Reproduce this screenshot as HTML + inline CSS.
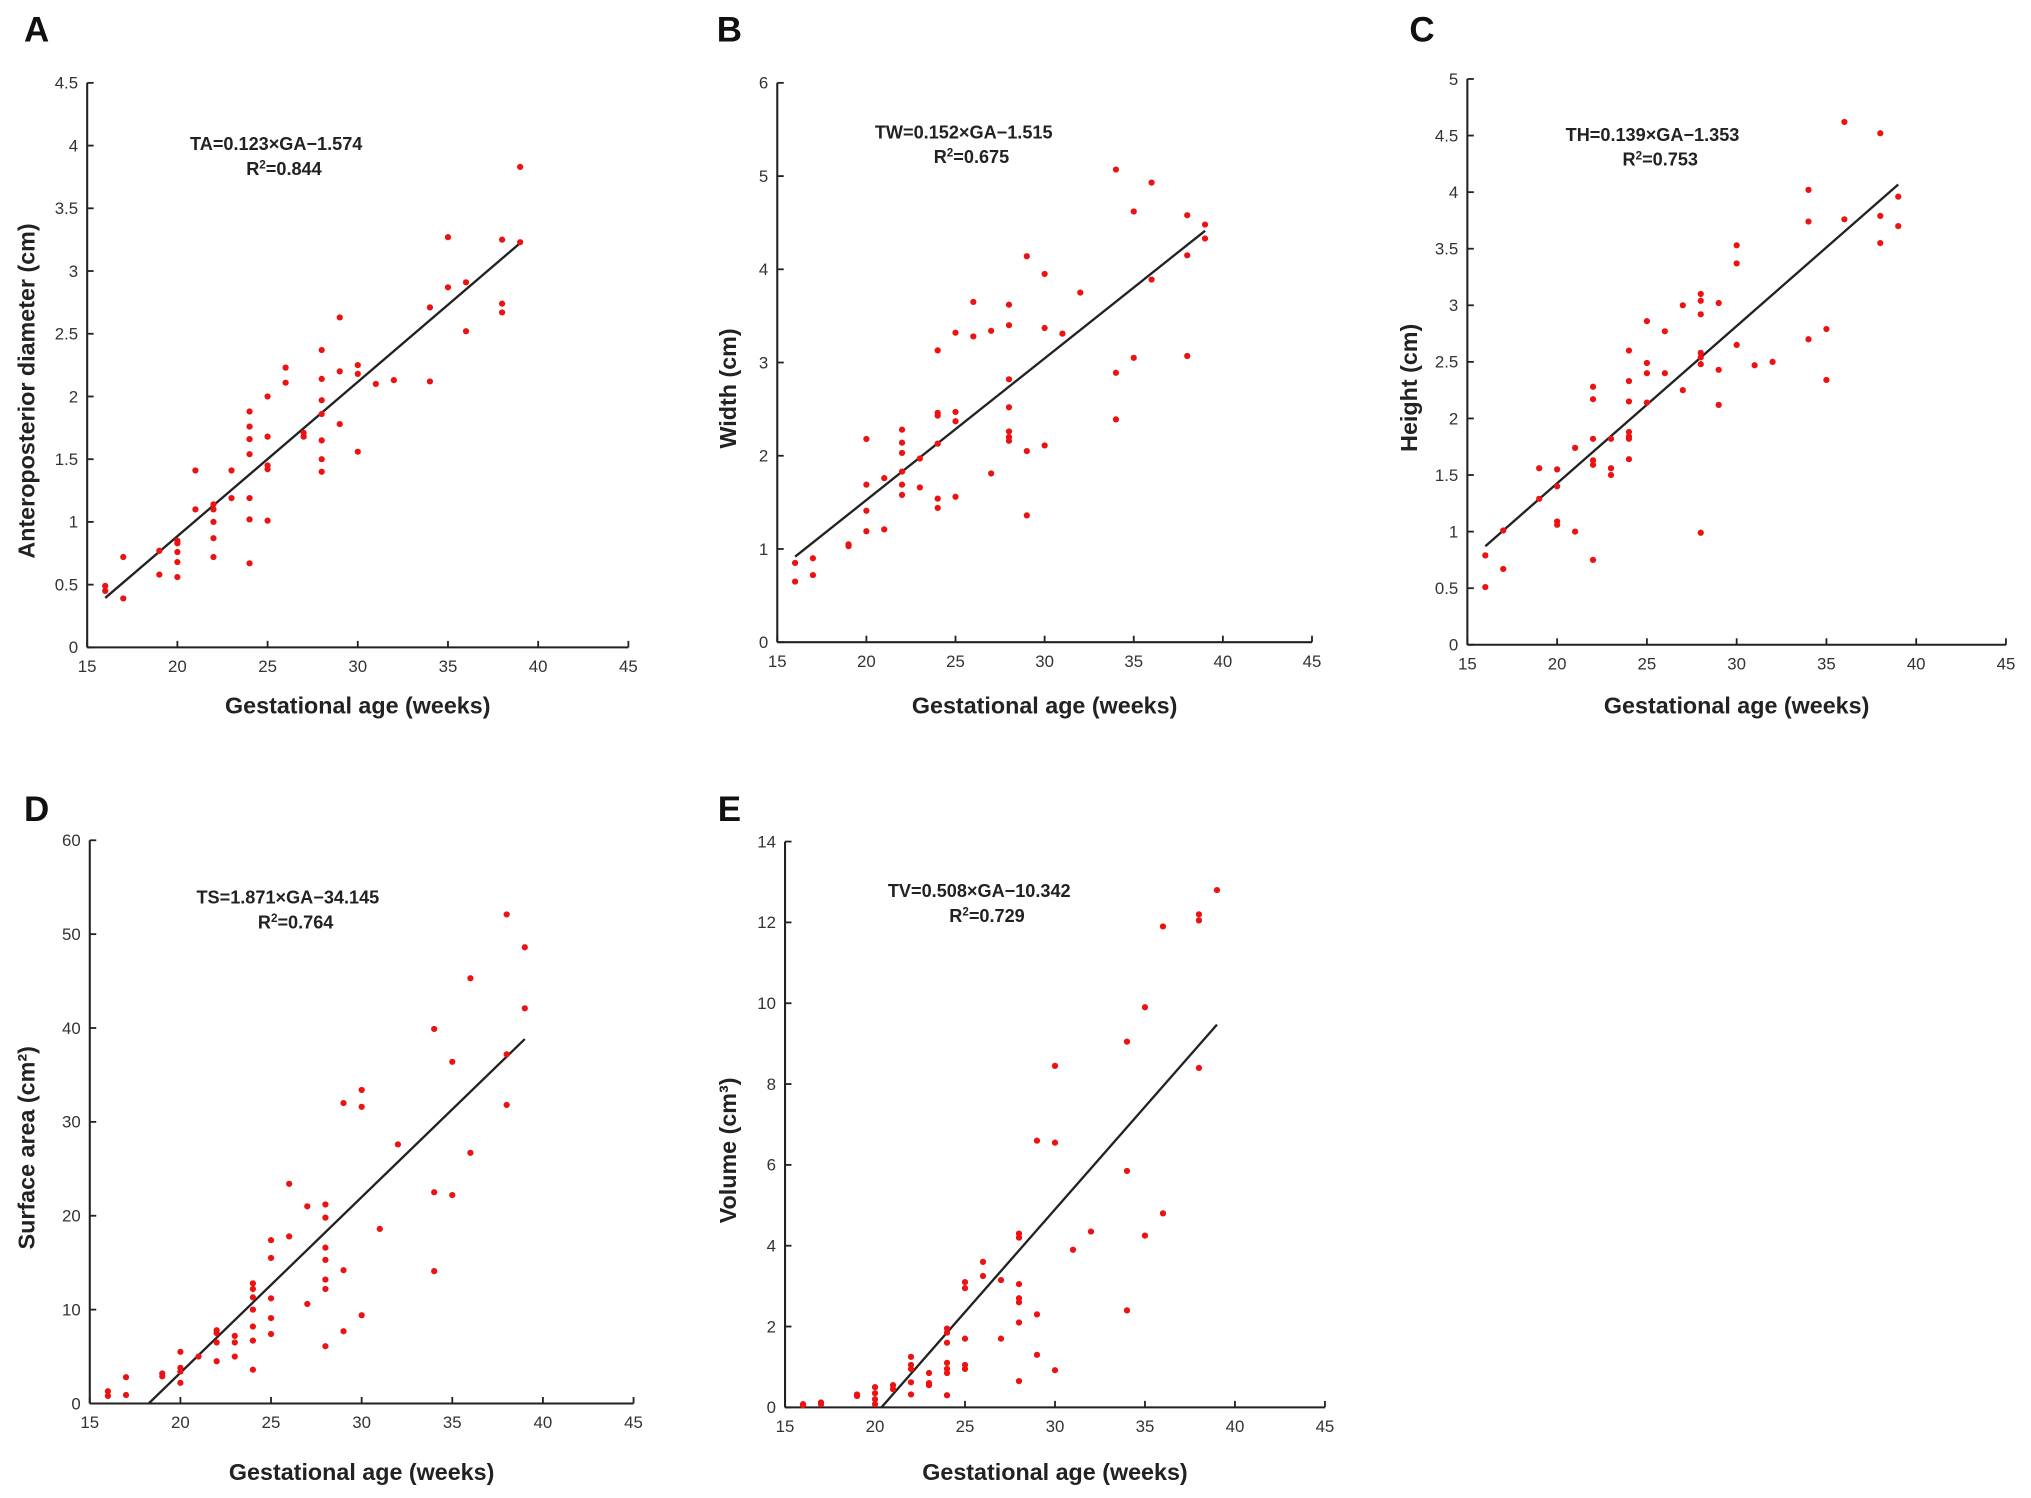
<!DOCTYPE html>
<html><head><meta charset="utf-8"><style>
html,body{margin:0;padding:0;background:#fff;}
svg{display:block;font-family:"Liberation Sans",Arial,sans-serif;}
</style></head><body>
<svg id="fig" width="2031" height="1498" viewBox="0 0 1568 1157" xmlns="http://www.w3.org/2000/svg"></svg>
<script>
const ticksA=[0,0.5,1,1.5,2,2.5,3,3.5,4,4.5];
const ticksB=[0,1,2,3,4,5,6];
const ticksC=[0,0.5,1,1.5,2,2.5,3,3.5,4,4.5,5];
const ticksD=[0,10,20,30,40,50,60];
const ticksE=[0,2,4,6,8,10,12,14];
const xTicks=[15,20,25,30,35,40,45];
const gaA=[16,16,17,17,19,19,20,20,20,20,20,21,21,22,22,22,22,22,23,23,24,24,24,24,24,24,24,25,25,25,25,25,26,26,27,27,28,28,28,28,28,28,28,29,29,29,30,30,30,31,32,34,34,35,35,36,36,38,38,38,39,39];
const valA=[0.49,0.45,0.72,0.39,0.77,0.58,0.85,0.83,0.76,0.68,0.56,1.41,1.1,1.14,1.1,1.0,0.87,0.72,1.41,1.19,1.88,1.76,1.66,1.54,1.19,1.02,0.67,2.0,1.68,1.45,1.42,1.01,2.23,2.11,1.71,1.68,2.37,2.14,1.97,1.86,1.65,1.5,1.4,2.63,2.2,1.78,2.25,2.18,1.56,2.1,2.13,2.71,2.12,3.27,2.87,2.91,2.52,3.25,2.74,2.67,3.83,3.23];
const gaB=[16,16,17,17,19,19,20,20,20,20,21,21,22,22,22,22,22,22,23,23,24,24,24,24,24,24,25,25,25,25,26,26,27,27,28,28,28,28,28,28,28,29,29,29,30,30,30,31,32,34,34,34,35,35,36,36,38,38,38,39,39];
const valB=[0.85,0.65,0.9,0.72,1.05,1.03,2.18,1.69,1.41,1.19,1.76,1.21,2.28,2.14,2.03,1.83,1.69,1.58,1.97,1.66,3.13,2.46,2.43,2.13,1.54,1.44,3.32,2.47,2.37,1.56,3.65,3.28,3.34,1.81,3.62,3.4,2.82,2.52,2.26,2.2,2.16,4.14,2.05,1.36,3.95,3.37,2.11,3.31,3.75,5.07,2.89,2.39,4.62,3.05,4.93,3.89,4.58,4.15,3.07,4.48,4.33];
const gaC=[16,16,17,17,19,19,20,20,20,20,21,21,22,22,22,22,22,22,23,23,23,24,24,24,24,24,24,24,25,25,25,25,26,26,27,27,28,28,28,28,28,28,28,29,29,29,30,30,30,31,32,34,34,34,35,35,36,36,38,38,38,39,39];
const valC=[0.79,0.51,1.01,0.67,1.56,1.29,1.55,1.4,1.09,1.06,1.74,1.0,2.28,2.17,1.82,1.63,1.59,0.75,1.82,1.56,1.5,2.6,2.33,2.15,1.88,1.84,1.82,1.64,2.86,2.49,2.4,2.14,2.77,2.4,3.0,2.25,3.1,3.04,2.92,2.58,2.54,2.48,0.99,3.02,2.43,2.12,3.53,3.37,2.65,2.47,2.5,4.02,3.74,2.7,2.79,2.34,4.62,3.76,4.52,3.79,3.55,3.96,3.7];
const gaD=[16,16,17,17,19,19,20,20,20,20,21,22,22,22,22,23,23,23,24,24,24,24,24,24,24,25,25,25,25,25,26,26,27,27,28,28,28,28,28,28,28,29,29,29,30,30,30,31,32,34,34,34,35,35,36,36,38,38,38,39,39];
const valD=[1.3,0.8,2.8,0.9,3.2,2.9,5.5,3.8,3.4,2.2,5.0,7.8,7.5,6.5,4.5,7.2,6.5,5.0,12.8,12.2,11.3,10.0,8.2,6.7,3.6,17.4,15.5,11.2,9.1,7.4,23.4,17.8,21.0,10.6,21.2,19.8,16.6,15.3,13.2,12.2,6.1,32.0,14.2,7.7,33.4,31.6,9.4,18.6,27.6,39.9,22.5,14.1,36.4,22.2,45.3,26.7,52.1,37.2,31.8,48.6,42.1];
const gaE=[16,16,17,17,19,19,20,20,20,20,21,21,22,22,22,22,22,23,23,23,24,24,24,24,24,24,24,25,25,25,25,25,26,26,27,27,28,28,28,28,28,28,28,29,29,29,30,30,30,31,32,34,34,34,35,35,36,36,38,38,38,39];
const valE=[0.08,0.05,0.12,0.08,0.32,0.28,0.5,0.35,0.2,0.08,0.55,0.45,1.25,1.05,0.95,0.62,0.32,0.85,0.6,0.55,1.95,1.85,1.6,1.1,0.95,0.85,0.3,3.1,2.95,1.7,1.05,0.95,3.6,3.25,3.15,1.7,4.3,4.2,3.05,2.7,2.6,2.1,0.65,6.6,2.3,1.3,8.45,6.55,0.92,3.9,4.35,9.05,5.85,2.4,9.9,4.25,11.9,4.8,12.2,12.05,8.4,12.8];
const slopes=[0.123,0.152,0.139,1.871,0.508];
const intercepts=[-1.574,-1.515,-1.353,-34.145,-10.342];

const NS="http://www.w3.org/2000/svg";
const svg=document.getElementById('fig');
function mk(tag,attrs,parent,text){const e=document.createElementNS(NS,tag);for(const k in attrs)e.setAttribute(k,attrs[k]);if(text!==undefined)e.textContent=text;(parent||svg).appendChild(e);return e;}

const panels=[
 {id:'a',L:'A',lx:28,ly:32,x0:67,x1:485,y0:500,y1:64,ticks:ticksA,ga:gaA,val:valA,ylab:'Anteroposterior diameter (cm)',ylx:20,xly:551,eq:'TA=0.123×GA−1.574',r2:'0.844',ex:213,ey:116},
 {id:'b',L:'B',lx:563,ly:32,x0:600,x1:1013,y0:496,y1:64,ticks:ticksB,ga:gaB,val:valB,ylab:'Width (cm)',ylx:562,xly:551,eq:'TW=0.152×GA−1.515',r2:'0.675',ex:744,ey:107},
 {id:'c',L:'C',lx:1098,ly:32,x0:1133,x1:1549,y0:498,y1:61,ticks:ticksC,ga:gaC,val:valC,ylab:'Height (cm)',ylx:1088,xly:551,eq:'TH=0.139×GA−1.353',r2:'0.753',ex:1276,ey:109},
 {id:'d',L:'D',lx:28,ly:634,x0:69,x1:489,y0:1084,y1:649,ticks:ticksD,ga:gaD,val:valD,ylab:'Surface area (cm²)',ylx:20,xly:1143,eq:'TS=1.871×GA−34.145',r2:'0.764',ex:222,ey:698},
 {id:'e',L:'E',lx:563,ly:634,x0:606,x1:1023,y0:1087,y1:650,ticks:ticksE,ga:gaE,val:valE,ylab:'Volume (cm³)',ylx:562,xly:1143,eq:'TV=0.508×GA−10.342',r2:'0.729',ex:756,ey:693}
];

panels.forEach((p,i)=>{
 const g=mk('g',{});
 
 
 const ymax=p.ticks[p.ticks.length-1];
 const X=v=>p.x0+(v-15)/30*(p.x1-p.x0);
 const Y=v=>p.y0-(v/ymax)*(p.y0-p.y1);
 const lt=mk('text',{x:p.lx,y:p.ly,'font-size':27,'font-weight':'bold','text-anchor':'middle',fill:'#111'},g,p.L);
 
 
 const ya=mk('line',{x1:p.x0,y1:p.y0,x2:p.x0,y2:p.y1,stroke:'#222','stroke-width':1.6},g);
 
 
 const xa=mk('line',{x1:p.x0,y1:p.y0,x2:p.x1,y2:p.y0,stroke:'#222','stroke-width':1.6},g);
 
 
 p.ticks.forEach(t=>{
  mk('line',{x1:p.x0,y1:Y(t),x2:p.x0+5,y2:Y(t),stroke:'#222','stroke-width':1.4},g);
  const tl=mk('text',{x:p.x0-7,y:Y(t)+4.5,'font-size':13,'text-anchor':'end',fill:'#333'},g,String(t));
  
  
 });
 xTicks.forEach(t=>{
  mk('line',{x1:X(t),y1:p.y0,x2:X(t),y2:p.y0-5,stroke:'#222','stroke-width':1.4},g);
  const tl=mk('text',{x:X(t),y:p.y0+19,'font-size':13,'text-anchor':'middle',fill:'#333'},g,String(t));
  
  
 });
 const xl=mk('text',{x:(p.x0+p.x1)/2,y:p.xly,'font-size':18,'font-weight':'bold','text-anchor':'middle',fill:'#222'},g,'Gestational age (weeks)');
 
 
 const cy=(p.y0+p.y1)/2+20;
 const yl=mk('text',{x:p.ylx,y:cy,'font-size':18,'font-weight':'bold','text-anchor':'middle',fill:'#222',transform:'rotate(-90 '+(p.ylx)+' '+cy+')','dominant-baseline':'central'},g,p.ylab);
 
 
 const e1=mk('text',{x:p.ex,y:p.ey,'font-size':14,'font-weight':'bold','text-anchor':'middle',fill:'#222'},g,p.eq);
 
 
 const e2=mk('text',{x:p.ex+6,y:p.ey+19,'font-size':14,'font-weight':'bold','text-anchor':'middle',fill:'#222'},g);
 
 
 mk('tspan',{},e2,'R');
 mk('tspan',{'font-size':9,dy:-5},e2,'2');
 mk('tspan',{dy:5},e2,'='+p.r2);
 const m=slopes[i],b=intercepts[i];
 let xs=16; if(m*xs+b<0) xs=-b/m;
 const xe=39;
 const rl=mk('line',{x1:X(xs),y1:Y(m*xs+b),x2:X(xe),y2:Y(m*xe+b),stroke:'#222','stroke-width':1.8},g);
 
 
 p.ga.forEach((x,k)=>{
  const c=mk('circle',{cx:X(x),cy:Y(p.val[k]),r:2.4,fill:'#ee1111'},g);
  
  
 });
});
</script>
</body></html>
